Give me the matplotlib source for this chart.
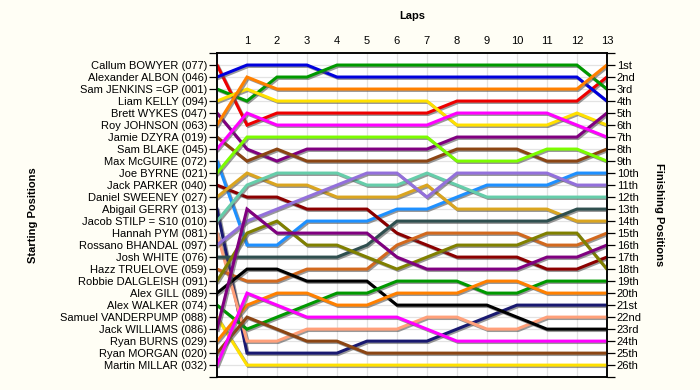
import matplotlib
matplotlib.use("Agg")
import matplotlib.pyplot as plt
import matplotlib.patheffects as pe

plt.rcParams['font.family'] = ['Liberation Sans', 'DejaVu Sans']

# ---------------------------------------------------------------------
# Data: starting grid, line colours, position after every lap (0..13)
# ---------------------------------------------------------------------
drivers = [
    "Callum BOWYER (077)", "Alexander ALBON (046)", "Sam JENKINS =GP (001)",
    "Liam KELLY (094)", "Brett WYKES (047)", "Roy JOHNSON (063)",
    "Jamie DZYRA (019)", "Sam BLAKE (045)", "Max McGUIRE (072)",
    "Joe BYRNE (021)", "Jack PARKER (040)", "Daniel SWEENEY (027)",
    "Abigail GERRY (013)", "Jacob STILP = S10 (010)", "Hannah PYM (081)",
    "Rossano BHANDAL (097)", "Josh WHITE (076)", "Hazz TRUELOVE (059)",
    "Robbie DALGLEISH (091)", "Alex GILL (089)", "Alex WALKER (074)",
    "Samuel VANDERPUMP (088)", "Jack WILLIAMS (086)", "Ryan BURNS (029)",
    "Ryan MORGAN (020)", "Martin MILLAR (032)",
]

colors = [
    "#EE0000", "#0000DD", "#009900", "#FFE000", "#800080", "#FF8000",
    "#8B4513", "#FF00FF", "#1E90FF", "#7CFC00", "#8B0000", "#DAA520",
    "#191970", "#66CDAA", "#FFA07A", "#9370DB", "#2F4F4F", "#D2691E",
    "#808000", "#000000", "#009900", "#FFE000", "#800080", "#FF8000",
    "#8B4513", "#FF00FF",
]

finish_labels = [
    "1st", "2nd", "3rd", "4th", "5th", "6th", "7th", "8th", "9th", "10th",
    "11th", "12th", "13th", "14th", "15th", "16th", "17th", "18th", "19th",
    "20th", "21st", "22nd", "23rd", "24th", "25th", "26th",
]

laps = list(range(14))

positions = [
    [1, 6, 5, 5, 5, 5, 5, 5, 4, 4, 4, 4, 4, 2],
    [2, 1, 1, 1, 2, 2, 2, 2, 2, 2, 2, 2, 2, 4],
    [3, 4, 2, 2, 1, 1, 1, 1, 1, 1, 1, 1, 1, 3],
    [4, 3, 4, 4, 4, 4, 4, 4, 6, 6, 6, 6, 5, 6],
    [5, 8, 9, 8, 8, 8, 8, 8, 7, 7, 7, 7, 7, 5],
    [6, 2, 3, 3, 3, 3, 3, 3, 3, 3, 3, 3, 3, 1],
    [7, 9, 8, 9, 9, 9, 9, 9, 8, 8, 8, 9, 9, 8],
    [8, 5, 6, 6, 6, 6, 6, 6, 5, 5, 5, 5, 6, 7],
    [9, 16, 16, 14, 14, 14, 13, 13, 12, 11, 11, 11, 10, 10],
    [10, 7, 7, 7, 7, 7, 7, 7, 9, 9, 9, 8, 8, 9],
    [11, 12, 12, 13, 13, 13, 15, 16, 17, 17, 17, 18, 18, 17],
    [12, 10, 11, 11, 12, 12, 12, 11, 13, 13, 13, 13, 14, 14],
    [13, 25, 25, 25, 25, 24, 24, 24, 23, 22, 21, 21, 21, 21],
    [14, 11, 10, 10, 10, 11, 11, 10, 11, 12, 12, 12, 12, 12],
    [15, 24, 24, 23, 23, 23, 23, 22, 22, 23, 23, 22, 22, 22],
    [16, 14, 13, 12, 11, 10, 10, 12, 10, 10, 10, 10, 11, 11],
    [17, 17, 17, 17, 17, 16, 14, 14, 14, 14, 14, 14, 13, 13],
    [18, 19, 19, 18, 18, 18, 16, 15, 15, 15, 15, 16, 16, 15],
    [19, 15, 14, 16, 16, 17, 18, 17, 16, 16, 16, 15, 15, 18],
    [20, 18, 18, 19, 19, 19, 21, 21, 21, 21, 22, 23, 23, 23],
    [21, 23, 22, 21, 20, 20, 19, 19, 19, 20, 20, 19, 19, 19],
    [22, 26, 26, 26, 26, 26, 26, 26, 26, 26, 26, 26, 26, 26],
    [23, 13, 15, 15, 15, 15, 17, 18, 18, 18, 18, 17, 17, 16],
    [24, 21, 20, 20, 21, 21, 20, 20, 20, 19, 19, 20, 20, 20],
    [25, 22, 23, 24, 24, 25, 25, 25, 25, 25, 25, 25, 25, 25],
    [26, 20, 21, 22, 22, 22, 22, 23, 24, 24, 24, 24, 24, 24],
]

# ---------------------------------------------------------------------
# Figure
# ---------------------------------------------------------------------
bg = "#FFFEF5"
fig = plt.figure(figsize=(7, 3.9), dpi=100, facecolor=bg)
ax = fig.add_axes([0.31, 0.033, 0.557, 0.831])
ax.set_facecolor("white")

shadow = [pe.SimpleLineShadow(offset=(1, -1), shadow_color="#555555", alpha=0.6),
          pe.Normal()]
for pos, col in zip(positions, colors):
    ax.plot(laps, pos, color=col, linewidth=2.2, solid_joinstyle="miter",
            path_effects=shadow, zorder=3)

n = len(drivers)
ax.set_xlim(0, 13)
ax.set_ylim(n + 1, 0)

# grid
for x in laps:
    ax.axvline(x, color="#E3E3E3", linewidth=0.9, zorder=1)
for y in range(1, n + 1):
    ax.axhline(y, color="#E3E3E3", linewidth=0.9, zorder=1)

# top axis: lap numbers
ax.xaxis.tick_top()
ax.set_xticks(laps[1:])
ax.set_xticklabels([str(l) for l in laps[1:]], fontsize=8)
ax.tick_params(axis="x", length=0, pad=5)
ax.set_xlabel("Laps", fontsize=8, fontweight="bold", labelpad=12)
ax.xaxis.set_label_position("top")

# left axis: starting grid
ax.set_yticks(range(1, n + 1))
ax.set_yticklabels(drivers, fontsize=8)
ax.set_yticks([0, n + 1], minor=True)
ax.tick_params(axis="y", which="both", length=6, width=0.9, pad=1)
ax.set_ylabel("Starting Positions", fontsize=8, fontweight="bold", labelpad=16)

# right axis: finishing order
ax2 = ax.twinx()
ax2.set_ylim(ax.get_ylim())
ax2.set_yticks(range(1, n + 1))
ax2.set_yticklabels(finish_labels, fontsize=8)
ax2.set_yticks([0, n + 1], minor=True)
ax2.tick_params(axis="y", which="both", length=6, width=0.9, pad=1)
ax2.set_ylabel("Finishing Positions", fontsize=8, fontweight="bold",
               rotation=-90, labelpad=16)

for a in (ax, ax2):
    for side in ("top", "bottom", "left", "right"):
        a.spines[side].set_linewidth(1.1)

plt.savefig("out.png", dpi=100, facecolor=bg)
